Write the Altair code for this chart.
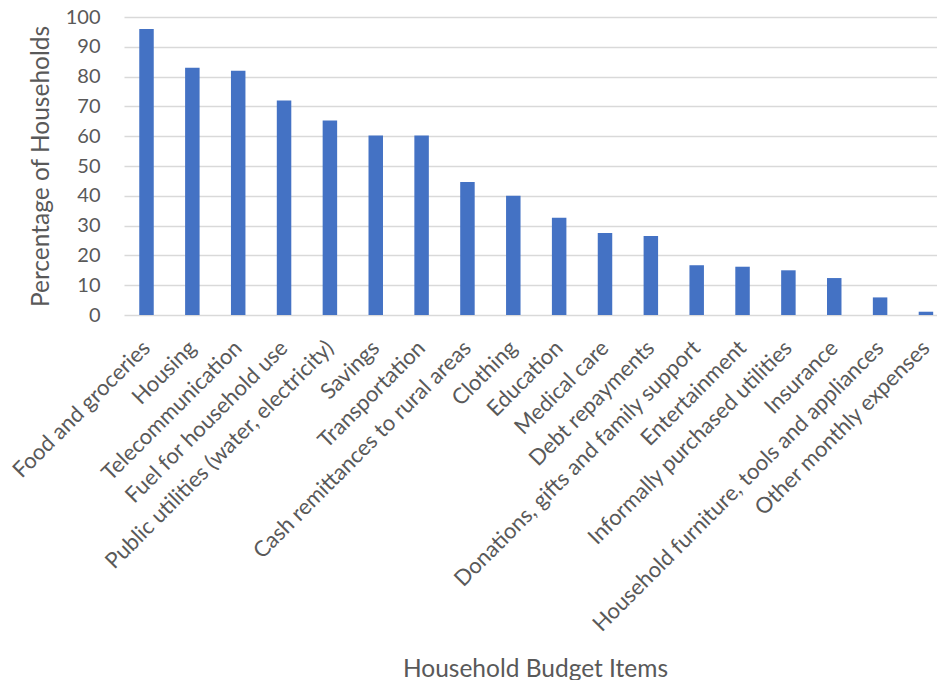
import altair as alt
import pandas as pd

categories = [
    "Food and groceries", "Housing", "Telecommunication", "Fuel for household use",
    "Public utilities (water, electricity)", "Savings", "Transportation",
    "Cash remittances to rural areas", "Clothing", "Education", "Medical care",
    "Debt repayments", "Donations, gifts and family support", "Entertainment",
    "Informally purchased utilities", "Insurance",
    "Household furniture, tools and appliances", "Other monthly expenses",
]
percentages = [96, 83, 82, 72, 65.3, 60.2, 60.2, 44.6, 40, 32.6, 27.5, 26.5,
               16.7, 16.2, 15, 12.4, 5.9, 1.1]
y_ticks = [0, 10, 20, 30, 40, 50, 60, 70, 80, 90, 100]
title_text = "Monthly Expenses"

df = pd.DataFrame({"item": categories, "pct": percentages})
tdf = pd.DataFrame({"t": [title_text]})

FONT = "Lato"
GREY = "#595959"

bars = alt.Chart(df).mark_bar(color="#4472C4").encode(
    x=alt.X("item:N", sort=categories,
            scale=alt.Scale(paddingInner=0.684, paddingOuter=0.208, align=0.8, round=False),
            axis=alt.Axis(title="Household Budget Items", labelAngle=-45, labelAlign="right",
                          labelBaseline="middle", labelPadding=29, labelFontSize=22,
                          labelColor=GREY, labelFont=FONT, labelLimit=0, labelOverlap=False,
                          labelBound=False, ticks=False, domain=False,
                          titleFont=FONT, titleFontSize=24.5, titleFontWeight="normal",
                          titleColor=GREY, titleX=411, titleY=361, titleAnchor="middle",
                          titleAlign="center", titleBaseline="alphabetic")),
    y=alt.Y("pct:Q", scale=alt.Scale(domain=[0, 100], nice=False, zero=True),
            axis=alt.Axis(title="Percentage of Households", values=y_ticks, grid=True,
                          gridColor="#d9d9d9", gridWidth=1.5, domain=False, ticks=False,
                          labelFontSize=20, labelColor=GREY, labelFont=FONT, labelPadding=24,
                          titleFont=FONT, titleFontSize=24.5, titleFontWeight="normal",
                          titleColor=GREY, titleAngle=-90, titleAlign="center",
                          titleBaseline="middle", titleX=-83, titleY=149, titleAnchor="middle")),
)

title_mark = alt.Chart(tdf).mark_text(
    font=FONT, fontSize=26, fontWeight="bold", align="left", baseline="alphabetic",
    color="#000000"
).encode(text="t:N", x=alt.value(169), y=alt.value(-21))

chart = alt.layer(bars, title_mark).properties(
    width=813, height=298,
    autosize=alt.AutoSizeParams(type="none"),
    padding={"left": 124, "top": 17, "right": 0, "bottom": 365},
    background="white",
).configure_view(stroke=None)

chart.save("out.html", embed_options={"renderer": "svg", "actions": False})
